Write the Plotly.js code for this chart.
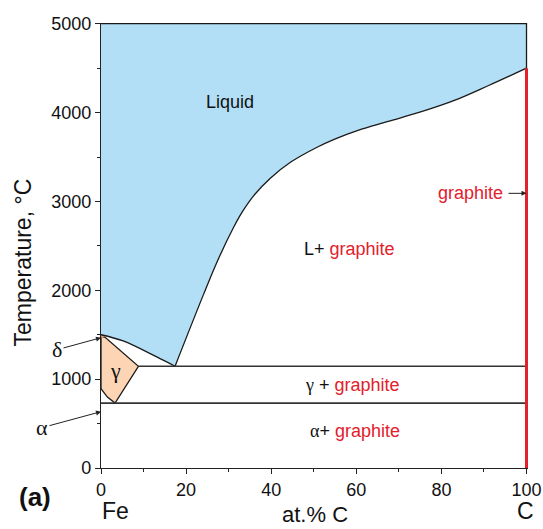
<!DOCTYPE html>
<html>
<head>
<meta charset="utf-8">
<script src="https://cdn.plot.ly/plotly-3.0.1.min.js"></script>
<style>
  html, body { margin: 0; padding: 0; background: #ffffff; }
  #chart { width: 543px; height: 529px; }
</style>
</head>
<body>
<div id="chart"></div>
<script>
// Fe–C phase diagram (stable, graphite system), composition in at.% C

// Liquidus on the iron side, from pure Fe down to the eutectic point
const liqLeftX = [0, 5.2, 13.1, 17.4];
const liqLeftT = [1500, 1430, 1250, 1145];

// Liquidus on the graphite side, from the eutectic up to pure carbon
const liqRightX = [17.4, 24.1, 27.3, 31.2, 33.2, 35.9, 39.8, 44.6, 50.9, 54.8, 60.4, 67.5, 75.3, 83.2, 91.1, 100];
const liqRightT = [1145, 1954, 2322, 2712, 2882, 3066, 3261, 3443, 3613, 3699, 3800, 3900, 4010, 4140, 4305, 4500];

// Austenite (γ) field outline
const gammaX = [0, 0, 0.9, 8.8, 3.3, 1.5, 0];
const gammaT = [893, 1482, 1474, 1145, 730, 798, 893];

// δ-ferrite sliver just below the melting point of iron
const deltaX = [0, 0, 0.9];
const deltaT = [1468, 1505, 1480];

// Invariant lines
const eutecticT = 1145;
const eutecticX = [8.8, 100];
const eutectoidT = 730;
const eutectoidX = [0, 100];

// Pure graphite line at 100 at.% C, up to the carbon liquidus
const graphiteX = [100, 100];
const graphiteT = [0, 4500];

// Upper temperature limit of the diagram
const topT = 5000;

// Axis ticks
const xTicks = [0, 20, 40, 60, 80, 100];
const xMinor = [10, 30, 50, 70, 90];
const yTicks = [0, 1000, 2000, 3000, 4000, 5000];
const yMinor = [500, 1500, 2500, 3500, 4500];

const LIQ_BLUE = '#b2dff5';
const GAMMA_ORANGE = '#fdd5b4';
const RED = '#e3202c';
const SANS = 'Liberation Sans, Arial, sans-serif';
const SERIF = 'Liberation Serif, Times New Roman, serif';

const traces = [
  // liquid field, left part: between the top edge and the Fe-side liquidus
  { x: [0, 24], y: [topT, topT], mode: 'lines', line: { width: 0 }, hoverinfo: 'skip' },
  { x: liqLeftX, y: liqLeftT, mode: 'lines', line: { width: 0, shape: 'spline' },
    fill: 'tonexty', fillcolor: LIQ_BLUE, hoverinfo: 'skip' },
  // liquid field, right part: between the top edge and the graphite liquidus
  { x: [liqRightX[0], 100], y: [topT, topT], mode: 'lines', line: { width: 0 }, hoverinfo: 'skip' },
  { x: liqRightX, y: liqRightT, mode: 'lines', line: { width: 0, shape: 'spline' },
    fill: 'tonexty', fillcolor: LIQ_BLUE, hoverinfo: 'skip' },

  // γ field
  { x: gammaX, y: gammaT, mode: 'lines', fill: 'toself', fillcolor: GAMMA_ORANGE,
    line: { color: '#1a1a1a', width: 1.3 }, hoverinfo: 'skip' },
  // δ sliver
  { x: deltaX, y: deltaT, mode: 'lines', fill: 'toself', fillcolor: '#e9a27a',
    line: { color: '#c0704a', width: 0.6 }, hoverinfo: 'skip' },

  // phase boundaries
  { x: liqLeftX, y: liqLeftT, mode: 'lines', line: { color: '#1a1a1a', width: 1.3, shape: 'spline' }, hoverinfo: 'skip' },
  { x: liqRightX, y: liqRightT, mode: 'lines', line: { color: '#1a1a1a', width: 1.3, shape: 'spline' }, hoverinfo: 'skip' },
  { x: [0, 100, 100], y: [topT, topT, liqRightT[liqRightT.length - 1]], mode: 'lines',
    line: { color: '#1a1a1a', width: 1.3 }, hoverinfo: 'skip' },
  { x: eutecticX, y: eutecticX.map(() => eutecticT), mode: 'lines',
    line: { color: '#333333', width: 1.6 }, hoverinfo: 'skip' },
  { x: eutectoidX, y: eutectoidX.map(() => eutectoidT), mode: 'lines',
    line: { color: '#333333', width: 1.6 }, hoverinfo: 'skip' },

  // graphite
  { x: graphiteX, y: graphiteT, mode: 'lines', line: { color: RED, width: 3 }, hoverinfo: 'skip' }
];

const red = s => '<span style="color:' + RED + '">' + s + '</span>';
const greek = s => '<span style="font-family:' + SERIF + '">' + s + '</span>';
const C = { xanchor: 'center', yanchor: 'middle' };

const annotations = [
  { ...C, x: 30.3, y: 4122, text: 'Liquid', showarrow: false, font: { family: SANS, size: 18, color: '#111' } },
  { ...C, x: 58.5, y: 2461, text: 'L+ ' + red('graphite'), showarrow: false, font: { family: SANS, size: 18, color: '#111' } },
  { ...C, x: 59.2, y: 930, text: greek('γ') + ' + ' + red('graphite'), showarrow: false, font: { family: SANS, size: 18, color: '#111' } },
  { ...C, x: 59.8, y: 415, text: greek('α') + '+ ' + red('graphite'), showarrow: false, font: { family: SANS, size: 18, color: '#111' } },
  { ...C, x: 3.3, y: 1100, text: 'γ', showarrow: false, font: { family: SERIF, size: 22, color: '#111' } },

  // graphite label with arrow to the 100 % C line
  { ...C, x: 100, y: 3091, ax: -56, ay: 0, text: 'graphite', showarrow: true, arrowhead: 2, arrowsize: 1,
    arrowwidth: 1, arrowcolor: '#222', startstandoff: 4, font: { family: SANS, size: 18, color: RED } },

  // δ and α markers on the Fe axis
  { ...C, x: 0, y: 1466, ax: -44, ay: 12, text: 'δ', showarrow: true, arrowhead: 2, arrowsize: 1,
    arrowwidth: 1, arrowcolor: '#222', font: { family: SERIF, size: 22, color: '#111' } },
  { ...C, x: 0, y: 634, ax: -59, ay: 16, text: 'α', showarrow: true, arrowhead: 2, arrowsize: 1,
    arrowwidth: 1, arrowcolor: '#222', font: { family: SERIF, size: 22, color: '#111' } },

  // composition end members and axis caption
  { ...C, x: 3.3, xref: 'x', y: -0.0966, yref: 'paper', text: 'Fe', showarrow: false, font: { family: SANS, size: 23, color: '#111' } },
  { ...C, x: 50.3, xref: 'x', y: -0.1045, yref: 'paper', text: 'at.% C', showarrow: false, font: { family: SANS, size: 22, color: '#111' } },
  { ...C, x: 99.8, xref: 'x', y: -0.0966, yref: 'paper', text: 'C', showarrow: false, font: { family: SANS, size: 23, color: '#111' } },
  { ...C, x: -0.1546, xref: 'paper', y: -0.0652, yref: 'paper', text: '<b>(a)</b>', showarrow: false, font: { family: SANS, size: 26, color: '#111' } },

  // temperature axis caption
  { ...C, x: -0.1827, xref: 'paper', y: 2313, yref: 'y', text: 'Temperature, °C', textangle: -90, showarrow: false,
    font: { family: SANS, size: 23, color: '#111' } }
];

const layout = {
  width: 543,
  height: 529,
  margin: { l: 101, r: 15, t: 23, b: 61, pad: 0 },
  paper_bgcolor: '#ffffff',
  plot_bgcolor: '#ffffff',
  showlegend: false,
  font: { family: SANS, color: '#111' },
  xaxis: {
    range: [0, 100.35],
    tickmode: 'array', tickvals: xTicks, ticktext: xTicks.map(String),
    ticks: 'outside', ticklen: 5, tickwidth: 1, tickcolor: '#222',
    minor: { tickmode: 'array', tickvals: xMinor, ticks: 'outside', ticklen: 3, tickwidth: 1, tickcolor: '#222', showgrid: false },
    showline: true, linecolor: '#222', linewidth: 1.2,
    showgrid: false, zeroline: false,
    tickfont: { family: SANS, size: 18, color: '#111' }
  },
  yaxis: {
    range: [0, 5008],
    tickmode: 'array', tickvals: yTicks, ticktext: yTicks.map(String),
    ticks: 'outside', ticklen: 5, tickwidth: 1, tickcolor: '#222',
    minor: { tickmode: 'array', tickvals: yMinor, ticks: 'outside', ticklen: 3, tickwidth: 1, tickcolor: '#222', showgrid: false },
    showline: true, linecolor: '#222', linewidth: 1.2,
    showgrid: false, zeroline: false,
    tickfont: { family: SANS, size: 18, color: '#111' }
  },
  annotations: annotations
};

Plotly.newPlot('chart', traces, layout, { staticPlot: true, displayModeBar: false });
</script>
</body>
</html>
